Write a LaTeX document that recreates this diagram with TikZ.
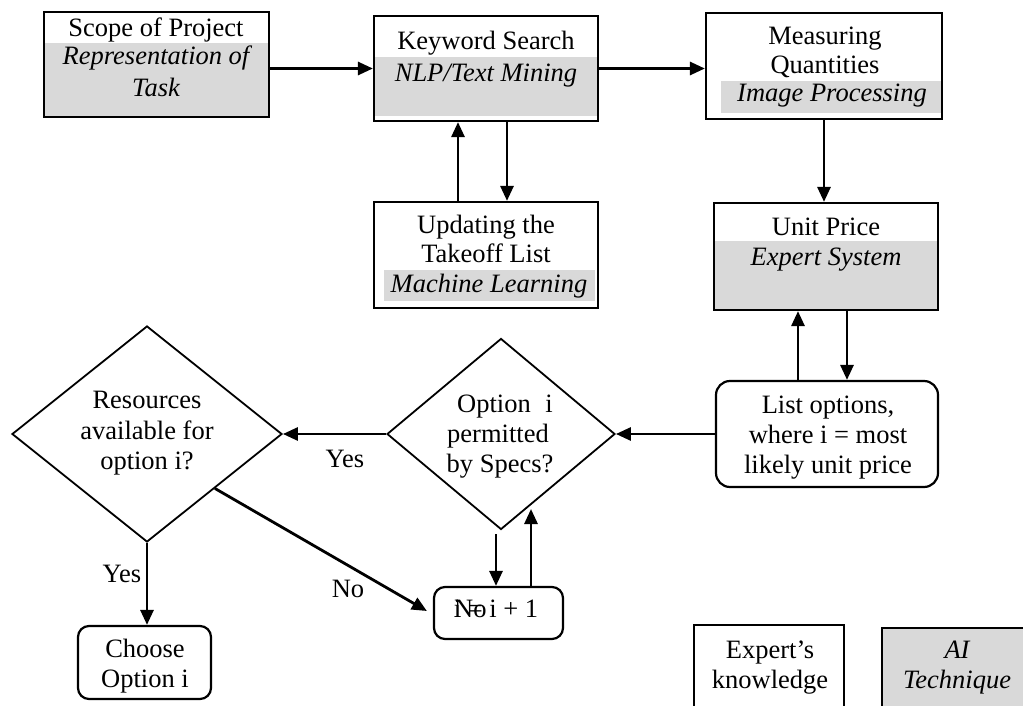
\documentclass[tikz,border=0pt]{standalone}
\usepackage{fontspec}
\setmainfont{Liberation Serif}
\usetikzlibrary{shapes.geometric,arrows.meta,calc}
\definecolor{aigray}{RGB}{217,217,217}
\begin{document}
\begin{tikzpicture}[x=1pt,y=-1pt,
  box/.style={draw,line width=2.2pt,inner sep=0pt},
  rbox/.style={draw,line width=2.2pt,rounded corners=14pt,inner sep=0pt},
  sbox/.style={draw,line width=2.2pt,rounded corners=11pt,inner sep=0pt},
  dia/.style={draw,diamond,line width=1.8pt,inner sep=0pt},
  arr/.style={line width=2.8pt,-{Triangle[length=15pt,width=13pt]}},
  tx/.style={anchor=base,inner sep=0pt,font=\fontsize{26.5}{30}\selectfont},
  it/.style={tx,font=\fontsize{26.5}{30}\selectfont\itshape},
]
\useasboundingbox (0,0) rectangle (1023,706);
\clip (0,0) rectangle (1023,706);

% gray AI-technique fills
\fill[aigray] (45,43) rectangle (268,116);
\fill[aigray] (375,57) rectangle (597,116);
\fill[aigray] (721,81) rectangle (941,113);
\fill[aigray] (384,270) rectangle (595,301);
\fill[aigray] (715,241) rectangle (937,309);

% boxes
\node[box, minimum width=225pt, minimum height=105pt] (scope) at (156.5,64.5) {};
\node[box, minimum width=224pt, minimum height=105pt] (keyword) at (486,68.5) {};
\node[box, minimum width=236pt, minimum height=106pt] (measure) at (824,66) {};
\node[box, minimum width=224pt, minimum height=106pt] (update) at (486,255) {};
\node[box, minimum width=224pt, minimum height=107pt] (unit) at (826,256.5) {};
\node[rbox, minimum width=222pt, minimum height=106pt] (list) at (827,434) {};
\node[dia, minimum width=228pt, minimum height=191pt] (opt) at (501,434) {};
\node[dia, minimum width=270pt, minimum height=216pt] (res) at (147,434) {};
\node[sbox, minimum width=129pt, minimum height=52pt] (incbox) at (498.5,613) {};
\node[sbox, minimum width=133pt, minimum height=73pt] (choose) at (144.5,662.5) {};
\node[box, minimum width=150pt, minimum height=110pt] (expert) at (769,680) {};
\node[box, fill=aigray, minimum width=150pt, minimum height=110pt] (ai) at (957,683) {};

% connectors
\draw[arr] (scope.east |- keyword.west) -- (keyword.west);
\draw[arr] (keyword.east) -- (keyword.east -| measure.west);
\draw[arr] (measure.south) -- (measure.south |- unit.north);
\draw[arr] ([xshift=-28pt]update.north) -- ([xshift=-28pt]keyword.south);
\draw[arr] ([xshift=21pt]keyword.south) -- ([xshift=21pt]update.north);
\draw[arr] ([xshift=-29pt]list.north) -- ([xshift=-29pt]list.north |- unit.south);
\draw[arr] ([xshift=20pt]list.north |- unit.south) -- ([xshift=20pt]list.north);
\draw[arr] (list.west) -- (opt.east);
\draw[arr] (opt.west) -- (res.east);
\draw[arr] (res.south) -- (res.south |- choose.north);
\draw[arr] (res.south east) -- ([xshift=-6pt,yshift=2pt]incbox.west);
\draw[arr] ([xshift=-2.5pt,yshift=-4pt]incbox.north |- opt.south) -- ([xshift=-2.5pt]incbox.north);
\coordinate (upend) at (531,509);
\draw[arr] ([xshift=32.5pt]incbox.north) -- (upend);

% texts
\node[tx] (t1) at (156,37) {Scope of Project};
\node[it] (t2) at (156,65) {Representation of};
\node[it] (t3) at (156,97) {Task};
\node[tx] (t4) at (486,50) {Keyword Search};
\node[it] (t5) at (486,82) {NLP/Text Mining};
\node[tx] (t6) at (825,45) {Measuring};
\node[tx] (t7) at (825,74) {Quantities};
\node[it] (t8) at (832,102) {Image Processing};
\node[tx] (t9) at (486,233) {Updating the};
\node[tx] (t10) at (486,262) {Takeoff List};
\node[it] (t11) at (489,292) {Machine Learning};
\node[tx] (t12) at (826,235) {Unit Price};
\node[it] (t13) at (826,265) {Expert System};
\node[tx] (t14) at (828,413) {List options,};
\node[tx] (t15) at (828,443) {where i = most};
\node[tx] (t16) at (828,473) {likely unit price};
\node[tx] (t17) at (505,412) {Option\hspace{0.55em}i};
\node[tx] (t18) at (498,442) {permitted};
\node[tx] (t19) at (500,472) {by Specs?};
\node[tx] (t20) at (147,408) {Resources};
\node[tx] (t21) at (147,439) {available for};
\node[tx] (t22) at (147,469) {option i?};
\node[tx] (t23) at (145,657) {Choose};
\node[tx] (t24) at (145,687) {Option i};
\node[tx] (t25) at (496,617) {i = i + 1};
\node[tx, anchor=base west] (t26) at (454,617) {No};
\node[tx] (t27) at (770,658) {Expert’s};
\node[tx] (t28) at (770,688) {knowledge};
\node[it] (t29) at (957,658) {AI};
\node[it] (t30) at (957,688) {Technique};
\node[tx] (yes1) at (345,467) {Yes};
\node[tx] (yes2) at (122,582) {Yes};
\node[tx] (no1) at (348,597) {No};
\end{tikzpicture}
\end{document}
